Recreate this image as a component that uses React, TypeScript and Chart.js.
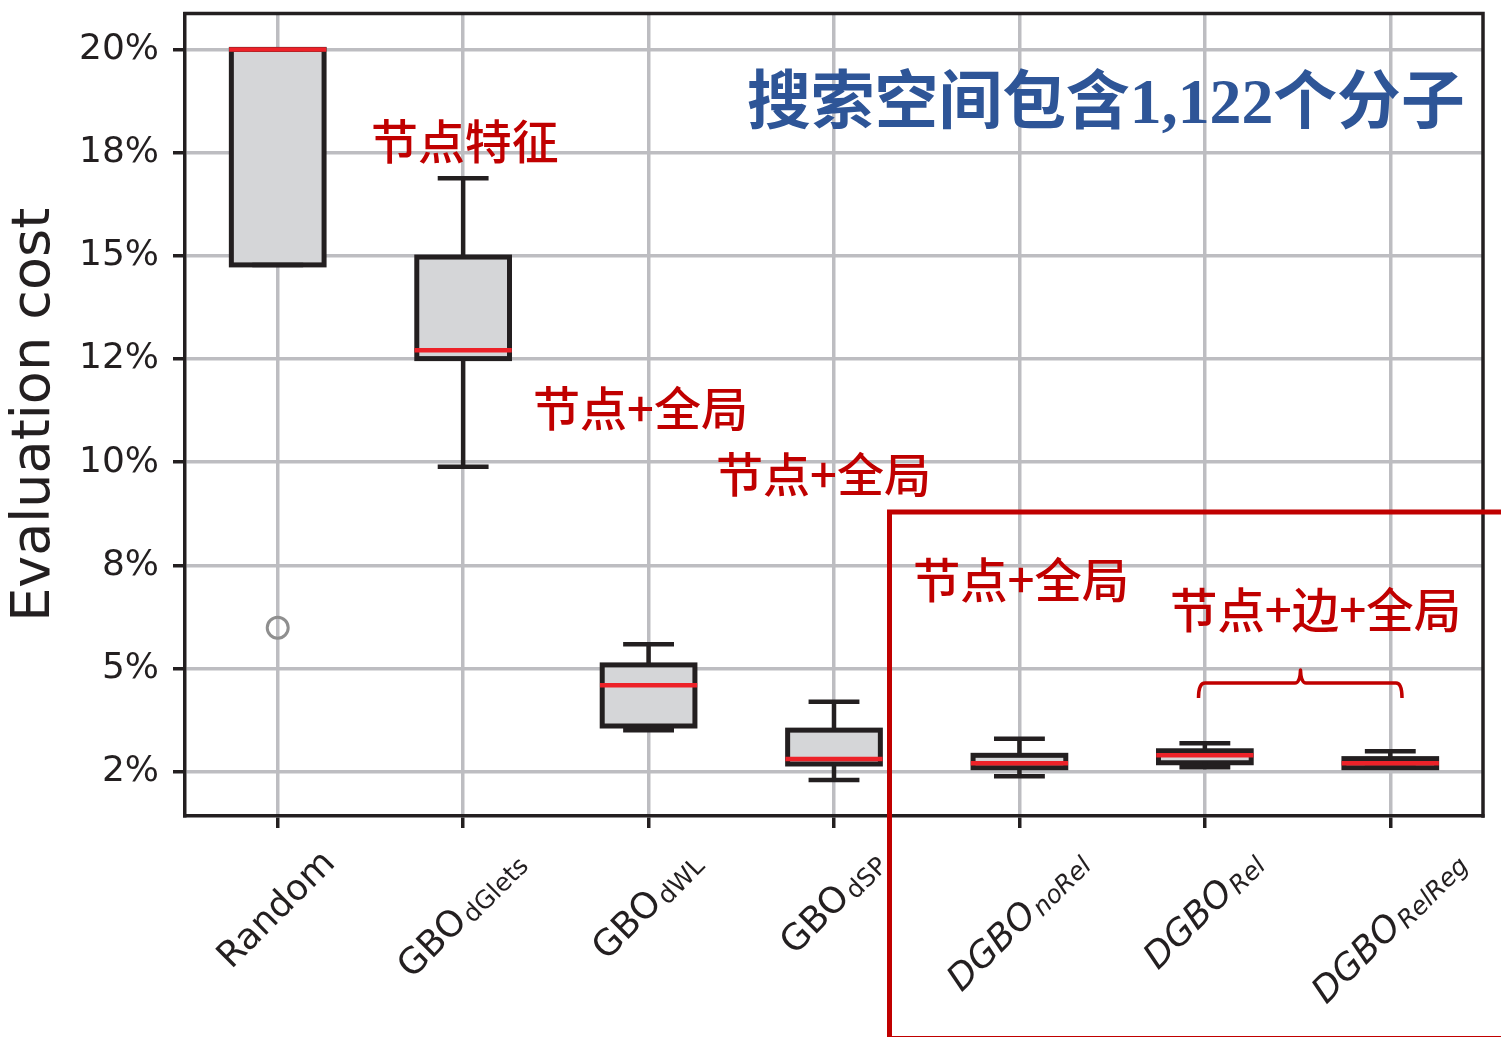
import React, { useEffect, useRef } from 'react';
import { Chart, registerables } from 'chart.js';

Chart.register(...registerables);

// ---- data ----
const labelMain = ['Random', 'GBO', 'GBO', 'GBO', 'DGBO', 'DGBO', 'DGBO'];
const labelSub = ['', 'dGlets', 'dWL', 'dSP', 'noRel', 'Rel', 'RelReg'];
const labelItalic = [false, false, false, false, true, true, true];

const whiskerLow = [14.78, 9.89, 3.51, 2.3, 2.39, 2.61, 2.6];
const q1 = [14.78, 12.51, 3.61, 2.69, 2.6, 2.72, 2.6];
const median = [20.0, 12.71, 4.6, 2.81, 2.71, 2.9, 2.71];
const q3 = [20.0, 14.97, 5.09, 3.51, 2.9, 3.01, 2.82];
const whiskerHigh = [20.0, 16.88, 5.59, 4.2, 3.3, 3.19, 3.0];
const outliers = [5.99, null, null, null, null, null, null];

const yTickValues = [2.5, 5, 7.5, 10, 12.5, 15, 17.5, 20];
const yTickLabels = ['2%', '5%', '8%', '10%', '12%', '15%', '18%', '20%'];
const yMin = 1.43;
const yMax = 20.87;

const titleText = '搜索空间包含1,122个分子';
const annotationTexts = ['节点特征', '节点+全局', '节点+全局', '节点+全局', '节点+边+全局'];

// ---- layout of overlay texts (pixel boxes) ----
const annotationBoxes = [
  { left: 373, right: 557, cy: 141 },
  { left: 535, right: 744, cy: 408 },
  { left: 718, right: 927, cy: 474 },
  { left: 915, right: 1125, cy: 579 },
  { left: 1172, right: 1457, cy: 609 },
];
const titleBox = { left: 748, right: 1462, cy: 100 };

const INK = '#231f20';
const GRID = '#bdbdc1';
const RED = '#c00000';

function drawFitted(
  ctx: CanvasRenderingContext2D,
  text: string,
  left: number,
  right: number,
  cy: number,
  family: string,
  weight: string,
  color: string
) {
  ctx.save();
  ctx.font = `${weight} 100px ${family}`;
  const m = ctx.measureText(text);
  const w = m.actualBoundingBoxLeft + m.actualBoundingBoxRight;
  const size = (100 * (right - left)) / w;
  ctx.font = `${weight} ${size}px ${family}`;
  const m2 = ctx.measureText(text);
  ctx.textBaseline = 'alphabetic';
  ctx.textAlign = 'left';
  ctx.fillStyle = color;
  const x = left + m2.actualBoundingBoxLeft;
  const y = cy + (m2.actualBoundingBoxAscent - m2.actualBoundingBoxDescent) / 2;
  ctx.fillText(text, x, y);
  ctx.restore();
}

const boxPlugin = {
  id: 'boxPlugin',
  afterDatasetsDraw(chart: any) {
    const ctx: CanvasRenderingContext2D = chart.ctx;
    const meta = chart.getDatasetMeta(0);
    const ys = chart.scales.y;
    ctx.save();
    meta.data.forEach((bar: any, i: number) => {
      const x = bar.x;
      const w = bar.width;
      const xl = x - w / 2;
      const yq1 = ys.getPixelForValue(q1[i]);
      const yq3 = ys.getPixelForValue(q3[i]);
      const yLo = ys.getPixelForValue(whiskerLow[i]);
      const yHi = ys.getPixelForValue(whiskerHigh[i]);
      const yMed = ys.getPixelForValue(median[i]);
      ctx.strokeStyle = INK;
      ctx.lineWidth = 5;
      ctx.lineJoin = 'miter';
      // box outline
      ctx.strokeRect(xl, yq3, w, yq1 - yq3);
      // whiskers
      ctx.lineCap = 'butt';
      ctx.lineWidth = 4.5;
      ctx.beginPath();
      if (yHi < yq3) {
        ctx.moveTo(x, yq3);
        ctx.lineTo(x, yHi);
      }
      if (yLo > yq1) {
        ctx.moveTo(x, yq1);
        ctx.lineTo(x, yLo);
      }
      ctx.stroke();
      // caps
      ctx.lineCap = 'square';
      ctx.lineWidth = 4.5;
      const cw = w / 4;
      ctx.beginPath();
      ctx.moveTo(x - cw, yHi);
      ctx.lineTo(x + cw, yHi);
      ctx.moveTo(x - cw, yLo);
      ctx.lineTo(x + cw, yLo);
      ctx.stroke();
      // median
      ctx.strokeStyle = '#ed2229';
      ctx.lineWidth = 4.5;
      ctx.lineCap = 'square';
      ctx.beginPath();
      ctx.moveTo(xl, yMed);
      ctx.lineTo(xl + w, yMed);
      ctx.stroke();
    });
    ctx.restore();
  },
  afterDraw(chart: any) {
    const ctx: CanvasRenderingContext2D = chart.ctx;
    const { left, right, top, bottom } = chart.chartArea;
    const xs = chart.scales.x;
    ctx.save();
    // top & right frame
    ctx.strokeStyle = INK;
    ctx.lineWidth = 3.5;
    ctx.lineCap = 'square';
    ctx.beginPath();
    ctx.moveTo(left, top);
    ctx.lineTo(right, top);
    ctx.lineTo(right, bottom);
    ctx.stroke();

    // x labels with subscripts
    const a = Math.PI / 4;
    labelMain.forEach((m, i) => {
      const st = labelItalic[i] ? 'italic ' : '';
      ctx.font = `${st}36px "DejaVu Sans"`;
      const wm = ctx.measureText(m).width;
      ctx.font = `${st}25px "DejaVu Sans"`;
      const ws = labelSub[i] ? ctx.measureText(labelSub[i]).width : 0;
      const gap = labelSub[i] ? 2 : 0;
      const w = wm + gap + ws;
      const H = (w + 26) * Math.sin(a);
      const cx = xs.getPixelForTick(i) - 3;
      const cy = xs.top + 30 + H / 2;
      ctx.save();
      ctx.translate(cx, cy);
      ctx.rotate(-a);
      ctx.fillStyle = INK;
      ctx.textAlign = 'left';
      ctx.textBaseline = 'alphabetic';
      ctx.font = `${st}36px "DejaVu Sans"`;
      ctx.fillText(m, -w / 2, 13);
      if (labelSub[i]) {
        ctx.font = `${st}25px "DejaVu Sans"`;
        ctx.fillText(labelSub[i], -w / 2 + wm + gap, 17);
      }
      ctx.restore();
    });

    // title
    drawFitted(ctx, titleText, titleBox.left, titleBox.right, titleBox.cy,
      '"Liberation Serif", "Noto Sans CJK SC"', 'bold', '#2e5597');

    // red annotations
    annotationTexts.forEach((t, i) => {
      const b = annotationBoxes[i];
      drawFitted(ctx, t, b.left, b.right, b.cy, '"Noto Sans CJK SC"', '500', RED);
    });

    // red highlight rectangle
    ctx.strokeStyle = RED;
    ctx.lineWidth = 5;
    ctx.lineCap = 'butt';
    ctx.beginPath();
    ctx.moveTo(889.5, 1040);
    ctx.lineTo(889.5, 512);
    ctx.lineTo(1505, 512);
    ctx.moveTo(889.5, 1038.5);
    ctx.lineTo(1505, 1038.5);
    ctx.stroke();

    // brace
    ctx.lineWidth = 3.5;
    ctx.lineJoin = 'round';
    ctx.beginPath();
    ctx.moveTo(1198.5, 698);
    ctx.quadraticCurveTo(1198.5, 683, 1205, 683);
    ctx.lineTo(1295, 683);
    ctx.quadraticCurveTo(1300, 683, 1300.5, 670);
    ctx.quadraticCurveTo(1301, 683, 1306, 683);
    ctx.lineTo(1396, 683);
    ctx.quadraticCurveTo(1402, 683, 1402, 698);
    ctx.stroke();
    ctx.restore();
  },
};

export default function App() {
  const ref = useRef<HTMLCanvasElement | null>(null);
  useEffect(() => {
    if (!ref.current) return;
    const labels = labelMain.map((m, i) => m + labelSub[i]);
    const chart = new Chart(ref.current, {
      type: 'bar',
      data: {
        labels,
        datasets: [
          {
            type: 'bar',
            data: q1.map((v, i) => [v, q3[i]]) as any,
            backgroundColor: '#d5d6d8',
            borderWidth: 0,
            barPercentage: 0.5,
            categoryPercentage: 1,
          } as any,
          {
            type: 'line',
            data: outliers as any,
            showLine: false,
            pointRadius: 10.5,
            pointHoverRadius: 10.5,
            pointBorderWidth: 3,
            pointBorderColor: '#8f8f8f',
            pointBackgroundColor: 'rgba(0,0,0,0)',
          } as any,
        ],
      },
      options: {
        animation: false,
        responsive: true,
        maintainAspectRatio: false,
        layout: { padding: { top: 13, right: 18, left: 0, bottom: 0 } },
        plugins: { legend: { display: false }, tooltip: { enabled: false } },
        scales: {
          x: {
            type: 'category',
            offset: true,
            grid: {
              color: GRID,
              lineWidth: 3.5,
              offset: false,
              tickLength: 12,
              tickColor: INK,
              tickWidth: 3.5,
            },
            border: { color: INK, width: 3.5 },
            ticks: { callback: () => '', autoSkip: false, maxRotation: 0 },
            afterFit: (s: any) => {
              s.height = 221;
              s.paddingLeft = 0;
              s.paddingRight = 0;
            },
          },
          y: {
            type: 'linear',
            min: yMin,
            max: yMax,
            afterBuildTicks: (s: any) => {
              s.ticks = yTickValues.map((v) => ({ value: v }));
            },
            grid: {
              color: GRID,
              lineWidth: 3.5,
              tickLength: 12,
              tickColor: INK,
              tickWidth: 3.5,
            },
            border: { color: INK, width: 3.5 },
            ticks: {
              callback: (v: any) => {
                const k = yTickValues.indexOf(Number(v));
                return k >= 0 ? yTickLabels[k] : '';
              },
              font: { family: '"DejaVu Sans"', size: 36 },
              color: INK,
              padding: 14,
            },
            title: {
              display: true,
              text: 'Evaluation cost',
              font: { family: '"DejaVu Sans"', size: 54, lineHeight: 1.2 },
              color: INK,
              padding: 3,
            },
            afterFit: (s: any) => {
              s.width = 185;
              s.paddingTop = 0;
              s.paddingBottom = 0;
            },
          },
        },
      },
      plugins: [boxPlugin],
    });
    return () => chart.destroy();
  }, []);
  return (
    <div style={{ position: 'absolute', left: 0, top: 0, width: 1501, height: 1037, background: '#fff' }}>
      <canvas ref={ref} />
    </div>
  );
}
